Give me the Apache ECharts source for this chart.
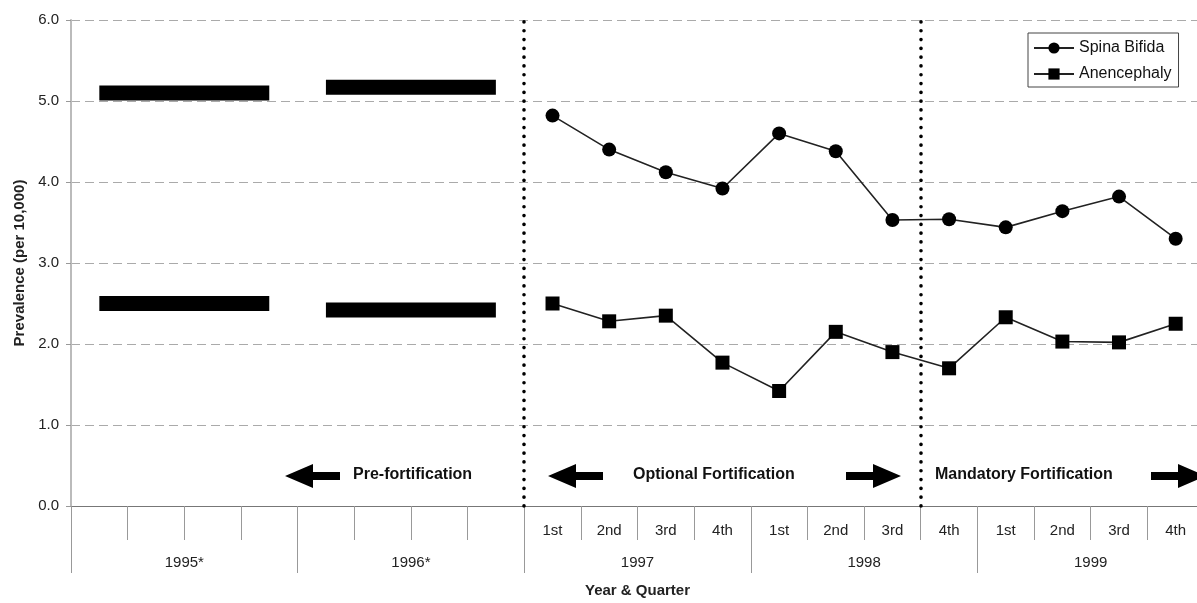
<!DOCTYPE html>
<html>
<head>
<meta charset="utf-8">
<script src="https://cdn.jsdelivr.net/npm/echarts@6/dist/echarts.min.js"></script>
<style>
html,body{margin:0;padding:0;background:#fff;overflow:hidden;width:1197px;height:603px;}
#chart{width:1204px;height:603px;}
</style>
</head>
<body>
<div id="chart"></div>
<script>
// ---- data ----
const quarterIds = [
  '1995Q1','1995Q2','1995Q3','1995Q4',
  '1996Q1','1996Q2','1996Q3','1996Q4',
  '1997Q1','1997Q2','1997Q3','1997Q4',
  '1998Q1','1998Q2','1998Q3','1998Q4',
  '1999Q1','1999Q2','1999Q3','1999Q4'
];
const quarterLabels = [
  '','','','',
  '','','','',
  '1st','2nd','3rd','4th',
  '1st','2nd','3rd','4th',
  '1st','2nd','3rd','4th'
];
const years = ['1995*','1996*','1997','1998','1999'];

// quarterly prevalence (per 10,000), 1997 Q1 - 1999 Q4
const spinaBifida = [null,null,null,null,null,null,null,null,
  4.82, 4.40, 4.12, 3.92, 4.60, 4.38, 3.53, 3.54, 3.44, 3.64, 3.82, 3.30];
const anencephaly = [null,null,null,null,null,null,null,null,
  2.50, 2.28, 2.35, 1.77, 1.42, 2.15, 1.90, 1.70, 2.33, 2.03, 2.02, 2.25];

// annual pre-fortification prevalence (1995, 1996)
const preYears = ['1995*','1996*'];
const preSpinaBifida = [5.10, 5.17];
const preAnencephaly = [2.50, 2.42];

// quarter indexes where fortification phases begin
const phaseBoundaries = [8, 15];

const yTicks = [0, 1, 2, 3, 4, 5, 6];

// ---- chart ----
const FONT = '"Liberation Sans", Arial, sans-serif';
const chart = echarts.init(document.getElementById('chart'), null, {renderer: 'canvas'});

function yearSeries(yearIdx, value, cap) {
  return {
    type: 'line',
    xAxisIndex: 0, yAxisIndex: 0,
    data: quarterIds.map((q, i) => Math.floor(i / 4) === yearIdx ? value : null),
    symbol: 'none',
    silent: true,
    lineStyle: {color: '#000', width: 15, cap: cap},
    z: 3
  };
}

const bars = [];
preYears.forEach((y, i) => {
  bars.push(yearSeries(i, preSpinaBifida[i], 'butt'));
  bars.push(yearSeries(i, preAnencephaly[i], 'butt'));
});

function leftArrow(tipX, yc) {
  return [[tipX, yc], [tipX + 28, yc - 12], [tipX + 28, yc - 4], [tipX + 55, yc - 4],
          [tipX + 55, yc + 4], [tipX + 28, yc + 4], [tipX + 28, yc + 12]];
}
function rightArrow(tipX, yc) {
  return [[tipX, yc], [tipX - 28, yc - 12], [tipX - 28, yc - 4], [tipX - 55, yc - 4],
          [tipX - 55, yc + 4], [tipX - 28, yc + 4], [tipX - 28, yc + 12]];
}

const option = {
  backgroundColor: '#fff',
  animation: false,
  grid: {left: 71, top: 20, right: 0, bottom: 90, containLabel: false},
  legend: {
    data: ['Spina Bifida', 'Anencephaly'],
    orient: 'vertical',
    left: 1028, top: 33,
    padding: [7, 7, 5, 5],
    itemWidth: 40, itemHeight: 14, itemGap: 10,
    borderColor: '#444', borderWidth: 1,
    textStyle: {fontFamily: FONT, fontSize: 16, color: '#111'},
    selectedMode: false
  },
  xAxis: [
    {
      type: 'category', gridIndex: 0, position: 'bottom',
      data: quarterIds, boundaryGap: true,
      axisLine: {show: true, lineStyle: {color: '#777', width: 1}},
      axisTick: {show: true, interval: 0, length: 34, lineStyle: {color: '#999'}},
      axisLabel: {interval: 0, margin: 17, fontFamily: FONT, fontSize: 15, color: '#222',
        formatter: (v, i) => quarterLabels[i]},
      splitLine: {show: false},
      name: 'Year & Quarter', nameLocation: 'middle', nameGap: 77,
      nameTextStyle: {fontFamily: FONT, fontSize: 15, fontWeight: 'bold', color: '#222'}
    },
    {
      type: 'category', gridIndex: 0, position: 'bottom', offset: 0,
      data: years, boundaryGap: true,
      axisLine: {show: false},
      axisTick: {show: true, interval: 0, length: 67, lineStyle: {color: '#999'}},
      axisLabel: {interval: 0, margin: 49, fontFamily: FONT, fontSize: 15, color: '#222'},
      splitLine: {show: false}
    },
    {
      type: 'value', gridIndex: 0, min: 0, max: quarterIds.length, show: false,
      splitLine: {show: false}
    }
  ],
  yAxis: {
    type: 'value', min: yTicks[0], max: yTicks[yTicks.length - 1], interval: 1,
    axisLine: {show: true, lineStyle: {color: '#bbb', width: 2}},
    axisTick: {show: true, length: 5, lineStyle: {color: '#999'}},
    axisLabel: {margin: 12, fontFamily: FONT, fontSize: 15, color: '#222',
      formatter: v => v.toFixed(1)},
    splitLine: {show: true, lineStyle: {color: '#aaa', width: 1, type: [9, 5]}},
    name: 'Prevalence (per 10,000)', nameLocation: 'middle', nameGap: 44, nameRotate: 90,
    nameTextStyle: {fontFamily: FONT, fontSize: 15, fontWeight: 'bold', color: '#222'}
  },
  series: [
    {
      name: 'Spina Bifida', type: 'line', xAxisIndex: 0,
      data: spinaBifida, connectNulls: false,
      symbol: 'circle', symbolSize: 14,
      itemStyle: {color: '#000'},
      lineStyle: {color: '#222', width: 1.6},
      z: 4
    },
    {
      name: 'Anencephaly', type: 'line', xAxisIndex: 0,
      data: anencephaly, connectNulls: false,
      symbol: 'rect', symbolSize: 14,
      itemStyle: {color: '#000'},
      lineStyle: {color: '#222', width: 1.6},
      z: 4
    },
    ...bars,
    {
      type: 'line', xAxisIndex: 2, yAxisIndex: 0,
      data: [],
      silent: true,
      markLine: {
        silent: true, symbol: ['none', 'none'],
        label: {show: false},
        lineStyle: {color: '#000', width: 3.6, type: [0.1, 8.7], cap: 'round'},
        data: phaseBoundaries.map(b => ({xAxis: b}))
      }
    }
  ],
  graphic: [
    {type: 'polygon', shape: {points: leftArrow(285, 476)}, style: {fill: '#000'}},
    {type: 'text', left: 353, top: 467, style: {text: 'Pre-fortification', font: 'bold 16px ' + FONT, fill: '#111'}},
    {type: 'polygon', shape: {points: leftArrow(548, 476)}, style: {fill: '#000'}},
    {type: 'text', left: 633, top: 467, style: {text: 'Optional Fortification', font: 'bold 16px ' + FONT, fill: '#111'}},
    {type: 'polygon', shape: {points: rightArrow(901, 476)}, style: {fill: '#000'}},
    {type: 'text', left: 935, top: 467, style: {text: 'Mandatory Fortification', font: 'bold 16px ' + FONT, fill: '#111'}},
    {type: 'polygon', shape: {points: rightArrow(1206, 476)}, style: {fill: '#000'}}
  ]
};
chart.setOption(option);
</script>
</body>
</html>
